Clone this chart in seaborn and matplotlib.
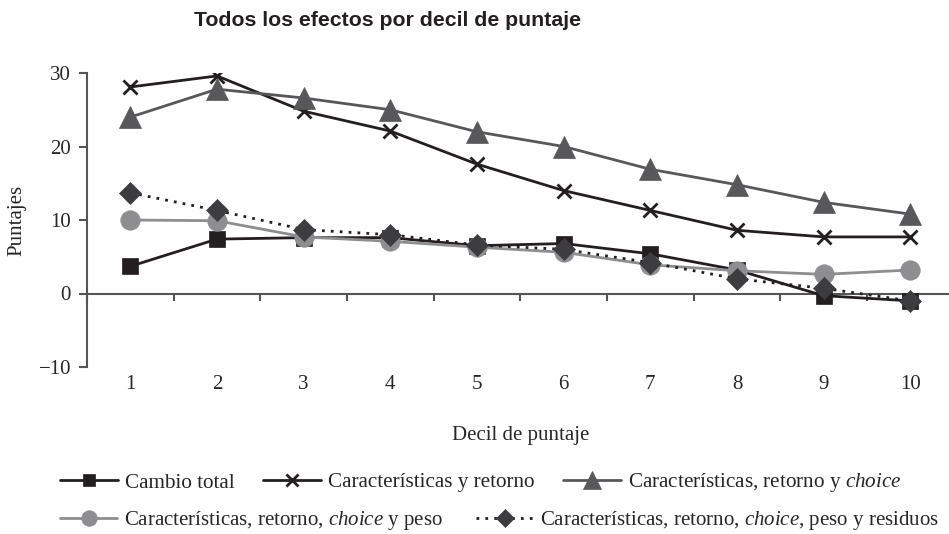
import numpy as np
import pandas as pd
import matplotlib
matplotlib.use("Agg")
import matplotlib.pyplot as plt
import seaborn as sns

# ---- data ----
deciles = [1, 2, 3, 4, 5, 6, 7, 8, 9, 10]
cambio_total = [3.7, 7.4, 7.6, 7.6, 6.5, 6.8, 5.4, 3.2, -0.3, -1.0]
caract_retorno = [28.1, 29.6, 24.8, 22.1, 17.6, 14.0, 11.3, 8.6, 7.7, 7.7]
caract_ret_choice = [24.0, 27.8, 26.6, 25.0, 22.0, 20.0, 16.9, 14.8, 12.4, 10.8]
caract_ret_choice_peso = [10.0, 9.9, 7.7, 7.1, 6.3, 5.6, 3.9, 3.1, 2.6, 3.2]
caract_ret_choice_peso_res = [13.7, 11.3, 8.7, 8.0, 6.6, 6.0, 4.2, 2.0, 0.7, -1.0]
y_ticks = [-10, 0, 10, 20, 30]

series_names = [
    "Cambio total",
    "Características y retorno",
    r"Características, retorno y $\mathit{choice}$",
    r"Características, retorno, $\mathit{choice}$ y peso",
    r"Características, retorno, $\mathit{choice}$, peso y residuos",
]
series_values = [cambio_total, caract_retorno, caract_ret_choice,
                 caract_ret_choice_peso, caract_ret_choice_peso_res]

sns.set_style("white")
plt.rcParams["font.family"] = ["Liberation Serif", "DejaVu Serif"]
plt.rcParams["mathtext.fontset"] = "custom"
plt.rcParams["mathtext.rm"] = "Liberation Serif"
plt.rcParams["mathtext.it"] = "Liberation Serif:italic"
plt.rcParams["axes.unicode_minus"] = True

styles = [
    dict(color="#231f20", marker="s", markersize=11, lw=2.0, ls="-", mfc="#231f20", mec="#231f20", mew=0.5),
    dict(color="#231f20", marker="x", markersize=10, lw=2.0, ls="-", mfc="#231f20", mec="#231f20", mew=2.0),
    dict(color="#58585a", marker="^", markersize=16, lw=2.0, ls="-", mfc="#58585a", mec="#58585a", mew=0.5),
    dict(color="#8e8e90", marker="o", markersize=14, lw=2.0, ls="-", mfc="#8e8e90", mec="#8e8e90", mew=0.5),
    dict(color="#231f20", marker="D", markersize=11, lw=2.0, ls=(0, (1, 2.2)), mfc="#3d3d3f", mec="#3d3d3f", mew=0.5),
]

fig = plt.figure(figsize=(9.49, 5.34), dpi=100)
W, H = 949.0, 534.0
ax = fig.add_axes([87 / W, 1 - 367 / H, 866.7 / W, 294 / H])

draw_order = [2, 1, 3, 4, 0]
for i in draw_order:
    df = pd.DataFrame({"Decil": deciles, "Puntaje": series_values[i]})
    st = styles[i]
    n_before = len(ax.lines)
    sns.lineplot(data=df, x="Decil", y="Puntaje", ax=ax, color=st["color"],
                 marker=st["marker"], markersize=st["markersize"], linewidth=st["lw"],
                 linestyle=st["ls"], markerfacecolor=st["mfc"], markeredgecolor=st["mec"],
                 markeredgewidth=st["mew"], legend=False, zorder=3 + i)
    ax.lines[n_before].set_label(series_names[i])

line_by_name = {l.get_label(): l for l in ax.lines}
handles = [line_by_name[n] for n in series_names]

ax.set_xlim(0.5, 10.5)
ax.set_ylim(-10, 30)
ax.set_yticks(y_ticks)
ax.set_yticklabels([f"{v}".replace("-", "\u2212") for v in y_ticks])
ax.set_xticks(deciles)
ax.set_xticklabels([str(d) for d in deciles])

for s in ["top", "right", "bottom"]:
    ax.spines[s].set_visible(False)
ax.spines["left"].set_color("#555555")
ax.spines["left"].set_linewidth(1.5)
ax.tick_params(axis="y", direction="out", length=6, width=1.5, color="#555555",
               pad=5.5, labelsize=15, left=True)
ax.tick_params(axis="x", length=0, pad=6, labelsize=15)
ax.grid(False)

# x axis line at y = 0 with boundary ticks
sec = ax.secondary_xaxis(0.25)
sec.set_xticks([d - 0.5 for d in deciles] + [10.5])
sec.set_xticklabels([])
sec.spines["bottom"].set_color("#555555")
sec.spines["bottom"].set_linewidth(1.5)
sec.tick_params(axis="x", direction="out", length=5, width=1.5, color="#555555")

ax.set_xlabel("Decil de puntaje", fontsize=15)
ax.xaxis.set_label_coords(0.5, -(426 - 367) / 294)
ax.set_ylabel("Puntajes", fontsize=15)
ax.yaxis.set_label_coords(-(87 - 26) / 866.7, 0.5)

fig.text(387 / W, 1 - 20 / H, "Todos los efectos por decil de puntaje",
         family="Liberation Sans", fontweight="bold", fontsize=15.3,
         ha="center", va="center", color="#231f20")

leg_kw = dict(frameon=False, handlelength=2.75, handletextpad=0.33,
              borderpad=0, borderaxespad=0, markerscale=0.8, numpoints=1)
leg1 = fig.legend(handles[:3], series_names[:3], loc="center left",
                  bbox_to_anchor=(60 / W, 1 - 483 / H), ncol=3,
                  columnspacing=1.35, fontsize=15.2, **leg_kw)
leg2 = fig.legend(handles[3:], series_names[3:], loc="center left",
                  bbox_to_anchor=(60 / W, 1 - 521 / H), ncol=2,
                  columnspacing=1.6, fontsize=15, **leg_kw)

fig.savefig("out.png", dpi=100)
